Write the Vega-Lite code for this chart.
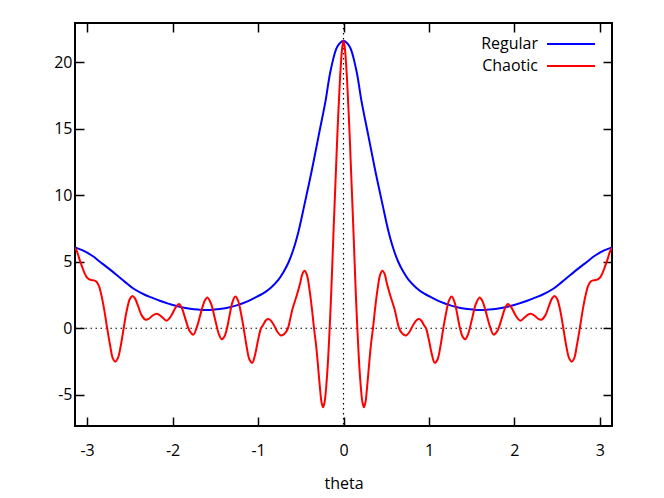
{
  "$schema": "https://vega.github.io/schema/vega-lite/v6.json",
  "width": 537,
  "height": 403,
  "autosize": {"type": "none"},
  "padding": {"left": 75, "top": 23, "right": 52, "bottom": 72},
  "background": "white",
  "config": {
    "view": {"stroke": "black", "strokeWidth": 2},
    "font": "Open Sans",
    "axis": {
      "grid": false,
      "domain": false,
      "tickColor": "black",
      "tickWidth": 1.5,
      "tickSize": -9,
      "labelColor": "black",
      "labelFont": "Open Sans",
      "labelFontSize": 16,
      "titleFont": "Open Sans",
      "titleFontSize": 16,
      "titleFontWeight": "normal",
      "titleColor": "black"
    }
  },
  "datasets": {
    "curves": [
      {"t": -3.1416, "v": 6.08, "s": "Regular"},
      {"t": -3.05, "v": 5.85, "s": "Regular"},
      {"t": -2.94, "v": 5.45, "s": "Regular"},
      {"t": -2.85, "v": 5.0, "s": "Regular"},
      {"t": -2.75, "v": 4.5, "s": "Regular"},
      {"t": -2.65, "v": 3.98, "s": "Regular"},
      {"t": -2.55, "v": 3.45, "s": "Regular"},
      {"t": -2.45, "v": 2.95, "s": "Regular"},
      {"t": -2.32, "v": 2.5, "s": "Regular"},
      {"t": -2.25, "v": 2.32, "s": "Regular"},
      {"t": -2.15, "v": 2.07, "s": "Regular"},
      {"t": -2.05, "v": 1.85, "s": "Regular"},
      {"t": -1.93, "v": 1.63, "s": "Regular"},
      {"t": -1.85, "v": 1.52, "s": "Regular"},
      {"t": -1.75, "v": 1.42, "s": "Regular"},
      {"t": -1.65, "v": 1.38, "s": "Regular"},
      {"t": -1.56, "v": 1.38, "s": "Regular"},
      {"t": -1.45, "v": 1.45, "s": "Regular"},
      {"t": -1.33, "v": 1.58, "s": "Regular"},
      {"t": -1.25, "v": 1.72, "s": "Regular"},
      {"t": -1.13, "v": 2.0, "s": "Regular"},
      {"t": -1.05, "v": 2.25, "s": "Regular"},
      {"t": -0.94, "v": 2.62, "s": "Regular"},
      {"t": -0.85, "v": 3.05, "s": "Regular"},
      {"t": -0.76, "v": 3.65, "s": "Regular"},
      {"t": -0.7, "v": 4.25, "s": "Regular"},
      {"t": -0.64, "v": 5.0, "s": "Regular"},
      {"t": -0.58, "v": 6.05, "s": "Regular"},
      {"t": -0.52, "v": 7.45, "s": "Regular"},
      {"t": -0.46, "v": 9.2, "s": "Regular"},
      {"t": -0.37, "v": 11.9, "s": "Regular"},
      {"t": -0.29, "v": 14.5, "s": "Regular"},
      {"t": -0.21, "v": 17.1, "s": "Regular"},
      {"t": -0.15, "v": 19.4, "s": "Regular"},
      {"t": -0.07, "v": 21.2, "s": "Regular"},
      {"t": 0, "v": 21.6, "s": "Regular"},
      {"t": 0.07, "v": 21.2, "s": "Regular"},
      {"t": 0.15, "v": 19.4, "s": "Regular"},
      {"t": 0.21, "v": 17.1, "s": "Regular"},
      {"t": 0.29, "v": 14.5, "s": "Regular"},
      {"t": 0.37, "v": 11.9, "s": "Regular"},
      {"t": 0.46, "v": 9.2, "s": "Regular"},
      {"t": 0.52, "v": 7.45, "s": "Regular"},
      {"t": 0.58, "v": 6.05, "s": "Regular"},
      {"t": 0.64, "v": 5.0, "s": "Regular"},
      {"t": 0.7, "v": 4.25, "s": "Regular"},
      {"t": 0.76, "v": 3.65, "s": "Regular"},
      {"t": 0.85, "v": 3.05, "s": "Regular"},
      {"t": 0.94, "v": 2.62, "s": "Regular"},
      {"t": 1.05, "v": 2.25, "s": "Regular"},
      {"t": 1.13, "v": 2.0, "s": "Regular"},
      {"t": 1.25, "v": 1.72, "s": "Regular"},
      {"t": 1.33, "v": 1.58, "s": "Regular"},
      {"t": 1.45, "v": 1.45, "s": "Regular"},
      {"t": 1.56, "v": 1.38, "s": "Regular"},
      {"t": 1.65, "v": 1.38, "s": "Regular"},
      {"t": 1.75, "v": 1.42, "s": "Regular"},
      {"t": 1.85, "v": 1.52, "s": "Regular"},
      {"t": 1.93, "v": 1.63, "s": "Regular"},
      {"t": 2.05, "v": 1.85, "s": "Regular"},
      {"t": 2.15, "v": 2.07, "s": "Regular"},
      {"t": 2.25, "v": 2.32, "s": "Regular"},
      {"t": 2.32, "v": 2.5, "s": "Regular"},
      {"t": 2.45, "v": 2.95, "s": "Regular"},
      {"t": 2.55, "v": 3.45, "s": "Regular"},
      {"t": 2.65, "v": 3.98, "s": "Regular"},
      {"t": 2.75, "v": 4.5, "s": "Regular"},
      {"t": 2.85, "v": 5.0, "s": "Regular"},
      {"t": 2.94, "v": 5.45, "s": "Regular"},
      {"t": 3.05, "v": 5.85, "s": "Regular"},
      {"t": 3.1416, "v": 6.08, "s": "Regular"},

      {"t": -3.1416, "v": 6.05, "s": "Chaotic"},
      {"t": -3.118, "v": 5.76, "s": "Chaotic"},
      {"t": -3.09, "v": 5.2, "s": "Chaotic"},
      {"t": -3.06, "v": 4.65, "s": "Chaotic"},
      {"t": -3.03, "v": 4.15, "s": "Chaotic"},
      {"t": -3.005, "v": 3.85, "s": "Chaotic"},
      {"t": -2.98, "v": 3.7, "s": "Chaotic"},
      {"t": -2.95, "v": 3.63, "s": "Chaotic"},
      {"t": -2.92, "v": 3.6, "s": "Chaotic"},
      {"t": -2.89, "v": 3.5, "s": "Chaotic"},
      {"t": -2.86, "v": 3.15, "s": "Chaotic"},
      {"t": -2.83, "v": 2.4, "s": "Chaotic"},
      {"t": -2.8, "v": 1.4, "s": "Chaotic"},
      {"t": -2.765, "v": 0.0, "s": "Chaotic"},
      {"t": -2.73, "v": -1.3, "s": "Chaotic"},
      {"t": -2.7, "v": -2.25, "s": "Chaotic"},
      {"t": -2.67, "v": -2.51, "s": "Chaotic"},
      {"t": -2.64, "v": -2.25, "s": "Chaotic"},
      {"t": -2.61, "v": -1.45, "s": "Chaotic"},
      {"t": -2.572, "v": 0.0, "s": "Chaotic"},
      {"t": -2.54, "v": 1.2, "s": "Chaotic"},
      {"t": -2.5, "v": 2.2, "s": "Chaotic"},
      {"t": -2.47, "v": 2.43, "s": "Chaotic"},
      {"t": -2.44, "v": 2.25, "s": "Chaotic"},
      {"t": -2.4, "v": 1.6, "s": "Chaotic"},
      {"t": -2.36, "v": 0.95, "s": "Chaotic"},
      {"t": -2.315, "v": 0.64, "s": "Chaotic"},
      {"t": -2.28, "v": 0.7, "s": "Chaotic"},
      {"t": -2.24, "v": 0.92, "s": "Chaotic"},
      {"t": -2.197, "v": 1.08, "s": "Chaotic"},
      {"t": -2.16, "v": 1.03, "s": "Chaotic"},
      {"t": -2.12, "v": 0.82, "s": "Chaotic"},
      {"t": -2.07, "v": 0.57, "s": "Chaotic"},
      {"t": -2.02, "v": 0.9, "s": "Chaotic"},
      {"t": -1.965, "v": 1.55, "s": "Chaotic"},
      {"t": -1.925, "v": 1.82, "s": "Chaotic"},
      {"t": -1.89, "v": 1.5, "s": "Chaotic"},
      {"t": -1.85, "v": 0.7, "s": "Chaotic"},
      {"t": -1.8, "v": -0.2, "s": "Chaotic"},
      {"t": -1.757, "v": -0.48, "s": "Chaotic"},
      {"t": -1.71, "v": 0.2, "s": "Chaotic"},
      {"t": -1.665, "v": 1.25, "s": "Chaotic"},
      {"t": -1.625, "v": 2.05, "s": "Chaotic"},
      {"t": -1.593, "v": 2.32, "s": "Chaotic"},
      {"t": -1.55, "v": 1.85, "s": "Chaotic"},
      {"t": -1.5, "v": 0.6, "s": "Chaotic"},
      {"t": -1.46, "v": -0.4, "s": "Chaotic"},
      {"t": -1.425, "v": -0.82, "s": "Chaotic"},
      {"t": -1.395, "v": -0.65, "s": "Chaotic"},
      {"t": -1.363, "v": 0.0, "s": "Chaotic"},
      {"t": -1.335, "v": 0.9, "s": "Chaotic"},
      {"t": -1.3, "v": 1.95, "s": "Chaotic"},
      {"t": -1.266, "v": 2.38, "s": "Chaotic"},
      {"t": -1.235, "v": 2.1, "s": "Chaotic"},
      {"t": -1.2, "v": 1.15, "s": "Chaotic"},
      {"t": -1.168, "v": 0.0, "s": "Chaotic"},
      {"t": -1.13, "v": -1.5, "s": "Chaotic"},
      {"t": -1.1, "v": -2.35, "s": "Chaotic"},
      {"t": -1.067, "v": -2.6, "s": "Chaotic"},
      {"t": -1.035, "v": -2.0, "s": "Chaotic"},
      {"t": -1.0, "v": -0.9, "s": "Chaotic"},
      {"t": -0.965, "v": 0.0, "s": "Chaotic"},
      {"t": -0.94, "v": 0.25, "s": "Chaotic"},
      {"t": -0.91, "v": 0.58, "s": "Chaotic"},
      {"t": -0.883, "v": 0.7, "s": "Chaotic"},
      {"t": -0.86, "v": 0.64, "s": "Chaotic"},
      {"t": -0.82, "v": 0.3, "s": "Chaotic"},
      {"t": -0.77, "v": -0.3, "s": "Chaotic"},
      {"t": -0.73, "v": -0.55, "s": "Chaotic"},
      {"t": -0.69, "v": -0.42, "s": "Chaotic"},
      {"t": -0.65, "v": 0.0, "s": "Chaotic"},
      {"t": -0.625, "v": 0.65, "s": "Chaotic"},
      {"t": -0.6, "v": 1.38, "s": "Chaotic"},
      {"t": -0.55, "v": 2.4, "s": "Chaotic"},
      {"t": -0.51, "v": 3.3, "s": "Chaotic"},
      {"t": -0.48, "v": 4.1, "s": "Chaotic"},
      {"t": -0.456, "v": 4.33, "s": "Chaotic"},
      {"t": -0.43, "v": 4.05, "s": "Chaotic"},
      {"t": -0.4, "v": 3.0, "s": "Chaotic"},
      {"t": -0.37, "v": 1.5, "s": "Chaotic"},
      {"t": -0.345, "v": 0.0, "s": "Chaotic"},
      {"t": -0.32, "v": -1.3, "s": "Chaotic"},
      {"t": -0.3, "v": -2.7, "s": "Chaotic"},
      {"t": -0.275, "v": -4.5, "s": "Chaotic"},
      {"t": -0.256, "v": -5.6, "s": "Chaotic"},
      {"t": -0.238, "v": -5.94, "s": "Chaotic"},
      {"t": -0.22, "v": -5.5, "s": "Chaotic"},
      {"t": -0.2, "v": -4.2, "s": "Chaotic"},
      {"t": -0.18, "v": -2.3, "s": "Chaotic"},
      {"t": -0.162, "v": 0.0, "s": "Chaotic"},
      {"t": -0.146, "v": 2.3, "s": "Chaotic"},
      {"t": -0.131, "v": 4.8, "s": "Chaotic"},
      {"t": -0.117, "v": 7.2, "s": "Chaotic"},
      {"t": -0.103, "v": 9.5, "s": "Chaotic"},
      {"t": -0.09, "v": 11.6, "s": "Chaotic"},
      {"t": -0.072, "v": 14.5, "s": "Chaotic"},
      {"t": -0.05, "v": 17.6, "s": "Chaotic"},
      {"t": -0.033, "v": 19.6, "s": "Chaotic"},
      {"t": -0.015, "v": 21.1, "s": "Chaotic"},
      {"t": 0, "v": 21.6, "s": "Chaotic"},
      {"t": 0.015, "v": 21.1, "s": "Chaotic"},
      {"t": 0.033, "v": 19.6, "s": "Chaotic"},
      {"t": 0.05, "v": 17.6, "s": "Chaotic"},
      {"t": 0.072, "v": 14.5, "s": "Chaotic"},
      {"t": 0.09, "v": 11.6, "s": "Chaotic"},
      {"t": 0.103, "v": 9.5, "s": "Chaotic"},
      {"t": 0.117, "v": 7.2, "s": "Chaotic"},
      {"t": 0.131, "v": 4.8, "s": "Chaotic"},
      {"t": 0.146, "v": 2.3, "s": "Chaotic"},
      {"t": 0.162, "v": 0.0, "s": "Chaotic"},
      {"t": 0.18, "v": -2.3, "s": "Chaotic"},
      {"t": 0.2, "v": -4.2, "s": "Chaotic"},
      {"t": 0.22, "v": -5.5, "s": "Chaotic"},
      {"t": 0.238, "v": -5.94, "s": "Chaotic"},
      {"t": 0.256, "v": -5.6, "s": "Chaotic"},
      {"t": 0.275, "v": -4.5, "s": "Chaotic"},
      {"t": 0.3, "v": -2.7, "s": "Chaotic"},
      {"t": 0.32, "v": -1.3, "s": "Chaotic"},
      {"t": 0.345, "v": 0.0, "s": "Chaotic"},
      {"t": 0.37, "v": 1.5, "s": "Chaotic"},
      {"t": 0.4, "v": 3.0, "s": "Chaotic"},
      {"t": 0.43, "v": 4.05, "s": "Chaotic"},
      {"t": 0.456, "v": 4.33, "s": "Chaotic"},
      {"t": 0.48, "v": 4.1, "s": "Chaotic"},
      {"t": 0.51, "v": 3.3, "s": "Chaotic"},
      {"t": 0.55, "v": 2.4, "s": "Chaotic"},
      {"t": 0.6, "v": 1.38, "s": "Chaotic"},
      {"t": 0.625, "v": 0.65, "s": "Chaotic"},
      {"t": 0.65, "v": 0.0, "s": "Chaotic"},
      {"t": 0.69, "v": -0.42, "s": "Chaotic"},
      {"t": 0.73, "v": -0.55, "s": "Chaotic"},
      {"t": 0.77, "v": -0.3, "s": "Chaotic"},
      {"t": 0.82, "v": 0.3, "s": "Chaotic"},
      {"t": 0.86, "v": 0.64, "s": "Chaotic"},
      {"t": 0.883, "v": 0.7, "s": "Chaotic"},
      {"t": 0.91, "v": 0.58, "s": "Chaotic"},
      {"t": 0.94, "v": 0.25, "s": "Chaotic"},
      {"t": 0.965, "v": 0.0, "s": "Chaotic"},
      {"t": 1.0, "v": -0.9, "s": "Chaotic"},
      {"t": 1.035, "v": -2.0, "s": "Chaotic"},
      {"t": 1.067, "v": -2.6, "s": "Chaotic"},
      {"t": 1.1, "v": -2.35, "s": "Chaotic"},
      {"t": 1.13, "v": -1.5, "s": "Chaotic"},
      {"t": 1.168, "v": 0.0, "s": "Chaotic"},
      {"t": 1.2, "v": 1.15, "s": "Chaotic"},
      {"t": 1.235, "v": 2.1, "s": "Chaotic"},
      {"t": 1.266, "v": 2.38, "s": "Chaotic"},
      {"t": 1.3, "v": 1.95, "s": "Chaotic"},
      {"t": 1.335, "v": 0.9, "s": "Chaotic"},
      {"t": 1.363, "v": 0.0, "s": "Chaotic"},
      {"t": 1.395, "v": -0.65, "s": "Chaotic"},
      {"t": 1.425, "v": -0.82, "s": "Chaotic"},
      {"t": 1.46, "v": -0.4, "s": "Chaotic"},
      {"t": 1.5, "v": 0.6, "s": "Chaotic"},
      {"t": 1.55, "v": 1.85, "s": "Chaotic"},
      {"t": 1.593, "v": 2.32, "s": "Chaotic"},
      {"t": 1.625, "v": 2.05, "s": "Chaotic"},
      {"t": 1.665, "v": 1.25, "s": "Chaotic"},
      {"t": 1.71, "v": 0.2, "s": "Chaotic"},
      {"t": 1.757, "v": -0.48, "s": "Chaotic"},
      {"t": 1.8, "v": -0.2, "s": "Chaotic"},
      {"t": 1.85, "v": 0.7, "s": "Chaotic"},
      {"t": 1.89, "v": 1.5, "s": "Chaotic"},
      {"t": 1.925, "v": 1.82, "s": "Chaotic"},
      {"t": 1.965, "v": 1.55, "s": "Chaotic"},
      {"t": 2.02, "v": 0.9, "s": "Chaotic"},
      {"t": 2.07, "v": 0.57, "s": "Chaotic"},
      {"t": 2.12, "v": 0.82, "s": "Chaotic"},
      {"t": 2.16, "v": 1.03, "s": "Chaotic"},
      {"t": 2.197, "v": 1.08, "s": "Chaotic"},
      {"t": 2.24, "v": 0.92, "s": "Chaotic"},
      {"t": 2.28, "v": 0.7, "s": "Chaotic"},
      {"t": 2.315, "v": 0.64, "s": "Chaotic"},
      {"t": 2.36, "v": 0.95, "s": "Chaotic"},
      {"t": 2.4, "v": 1.6, "s": "Chaotic"},
      {"t": 2.44, "v": 2.25, "s": "Chaotic"},
      {"t": 2.47, "v": 2.43, "s": "Chaotic"},
      {"t": 2.5, "v": 2.2, "s": "Chaotic"},
      {"t": 2.54, "v": 1.2, "s": "Chaotic"},
      {"t": 2.572, "v": 0.0, "s": "Chaotic"},
      {"t": 2.61, "v": -1.45, "s": "Chaotic"},
      {"t": 2.64, "v": -2.25, "s": "Chaotic"},
      {"t": 2.67, "v": -2.51, "s": "Chaotic"},
      {"t": 2.7, "v": -2.25, "s": "Chaotic"},
      {"t": 2.73, "v": -1.3, "s": "Chaotic"},
      {"t": 2.765, "v": 0.0, "s": "Chaotic"},
      {"t": 2.8, "v": 1.4, "s": "Chaotic"},
      {"t": 2.83, "v": 2.4, "s": "Chaotic"},
      {"t": 2.86, "v": 3.15, "s": "Chaotic"},
      {"t": 2.89, "v": 3.5, "s": "Chaotic"},
      {"t": 2.92, "v": 3.6, "s": "Chaotic"},
      {"t": 2.95, "v": 3.63, "s": "Chaotic"},
      {"t": 2.98, "v": 3.7, "s": "Chaotic"},
      {"t": 3.005, "v": 3.85, "s": "Chaotic"},
      {"t": 3.03, "v": 4.15, "s": "Chaotic"},
      {"t": 3.06, "v": 4.65, "s": "Chaotic"},
      {"t": 3.09, "v": 5.2, "s": "Chaotic"},
      {"t": 3.118, "v": 5.76, "s": "Chaotic"},
      {"t": 3.1416, "v": 6.05, "s": "Chaotic"}
    ]
  },
  "resolve": {"axis": {"x": "independent", "y": "independent"}},
  "layer": [
    {
      "data": {"values": [{"z": 0}]},
      "mark": {"type": "rule", "color": "black", "strokeWidth": 1.2, "strokeDash": [1.5, 3.5]},
      "encoding": {
        "y": {"field": "z", "type": "quantitative", "scale": {"domain": [-7.35, 22.95], "nice": false, "zero": false},
              "axis": {"orient": "right", "values": [-5, 0, 5, 10, 15, 20], "labels": false, "title": null}}
      }
    },
    {
      "data": {"values": [{"z": 0}]},
      "mark": {"type": "rule", "color": "black", "strokeWidth": 1.2, "strokeDash": [1.5, 3.5]},
      "encoding": {
        "x": {"field": "z", "type": "quantitative", "scale": {"domain": [-3.14159, 3.14159], "nice": false, "zero": false},
              "axis": {"orient": "top", "values": [-3, -2, -1, 0, 1, 2, 3], "labels": false, "title": null}}
      }
    },
    {
      "data": {"name": "curves"},
      "mark": {"type": "line", "strokeWidth": 2, "interpolate": "catmull-rom", "clip": true},
      "encoding": {
        "x": {"field": "t", "type": "quantitative",
              "axis": {"orient": "bottom", "values": [-3, -2, -1, 0, 1, 2, 3], "labelExpr": "datum.value + ''", "labelPadding": 25, "title": "theta", "titlePadding": 17}},
        "y": {"field": "v", "type": "quantitative",
              "axis": {"orient": "left", "values": [-5, 0, 5, 10, 15, 20], "labelExpr": "datum.value + ''", "labelPadding": 12, "title": null}},
        "color": {"field": "s", "type": "nominal",
                  "scale": {"domain": ["Regular", "Chaotic"], "range": ["#0000ff", "#ff0000"]},
                  "legend": {"orient": "none", "legendX": 487, "legendY": 12, "title": null, "padding": 0,
                             "symbolType": "M-3,0H3", "symbolSize": 256, "symbolStrokeWidth": 2,
                             "labelAlign": "right", "labelOffset": -42, "labelFontSize": 16, "labelFont": "Open Sans",
                             "labelColor": "black", "rowPadding": 5}},
        "order": {"field": "t", "type": "quantitative"}
      }
    }
  ]
}
